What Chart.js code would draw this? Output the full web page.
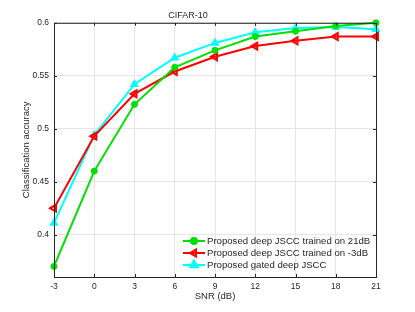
<!DOCTYPE html>
<html>
<head>
<meta charset="utf-8">
<script src="https://cdn.jsdelivr.net/npm/chart.js@4"></script>
<style>
  html, body { margin: 0; padding: 0; background: #fff; }
  #wrap { width: 415px; height: 312px; }
</style>
</head>
<body>
<div id="wrap"><canvas id="accChart"></canvas></div>
<script>
// SNR values (dB) on the x axis
const snr = [-3, 0, 3, 6, 9, 12, 15, 18, 21];
const xTicks = [-3, 0, 3, 6, 9, 12, 15, 18, 21];
const yTicks = [0.4, 0.45, 0.5, 0.55, 0.6];

// accuracy
const trained21 = [0.370, 0.460, 0.523, 0.558, 0.574, 0.587, 0.592, 0.597, 0.600];
const trainedM3 = [0.425, 0.493, 0.533, 0.554, 0.568, 0.578, 0.583, 0.587, 0.587];
const gated = [0.411, 0.494, 0.542, 0.567, 0.581, 0.591, 0.595, 0.596, 0.594];

const labels = [
  'Proposed deep JSCC trained on 21dB',
  'Proposed deep JSCC trained on -3dB',
  'Proposed gated deep JSCC'
];

const FONT = '"Liberation Sans", Arial, sans-serif';
const AX = '#262626';

function pts(ys) {
  return snr.map((x, i) => ({ x: x, y: ys[i] }));
}

// matlab-ish box + inner ticks
const boxPlugin = {
  id: 'box',
  afterDatasetsDraw(chart) {
    const a = chart.chartArea, ctx = chart.ctx;
    const xs = chart.scales.x, ys = chart.scales.y;
    ctx.save();
    ctx.strokeStyle = AX;
    ctx.lineWidth = 1;
    ctx.strokeRect(a.left + 0.5, a.top + 0.5, a.right - a.left, a.bottom - a.top);
    ctx.beginPath();
    xTicks.forEach(v => {
      const px = Math.round(xs.getPixelForValue(v)) + 0.5;
      ctx.moveTo(px, a.bottom); ctx.lineTo(px, a.bottom - 3);
      ctx.moveTo(px, a.top); ctx.lineTo(px, a.top + 3);
    });
    yTicks.forEach(v => {
      const py = Math.round(ys.getPixelForValue(v)) + 0.5;
      ctx.moveTo(a.left, py); ctx.lineTo(a.left + 3, py);
      ctx.moveTo(a.right, py); ctx.lineTo(a.right - 3, py);
    });
    ctx.stroke();
    ctx.restore();
  }
};

// legend drawn by hand: long line with marker in the middle
const legendPlugin = {
  id: 'matLegend',
  afterDraw(chart) {
    const ctx = chart.ctx;
    const x0 = 183, x1 = 205, tx = 207;
    const rows = [241, 253, 265];
    ctx.save();
    ctx.font = '9.6px ' + FONT;
    ctx.textBaseline = 'middle';
    chart.data.datasets.forEach((ds, i) => {
      const y = rows[i];
      ctx.strokeStyle = ds.borderColor;
      ctx.lineWidth = ds.borderWidth;
      ctx.beginPath();
      ctx.moveTo(x0, y); ctx.lineTo(x1, y);
      ctx.stroke();
      ctx.fillStyle = ds.pointBackgroundColor;
      ctx.strokeStyle = ds.pointBorderColor;
      Chart.helpers.drawPoint(ctx, {
        pointStyle: ds.pointStyle,
        radius: ds.pointRadius,
        rotation: ds.pointRotation || 0,
        borderWidth: ds.pointBorderWidth
      }, (x0 + x1) / 2, y);
      ctx.fillStyle = AX;
      ctx.fillText(ds.label, tx, y);
    });
    ctx.restore();
  }
};

const ctx = document.getElementById('accChart');
new Chart(ctx, {
  type: 'line',
  data: {
    datasets: [
      {
        label: labels[0], data: pts(trained21),
        borderColor: '#00e000', backgroundColor: '#00e000',
        borderWidth: 2, pointStyle: 'circle', pointRadius: 3,
        pointBackgroundColor: '#00e000', pointBorderColor: '#00e000', pointBorderWidth: 1
      },
      {
        label: labels[1], data: pts(trainedM3),
        borderColor: '#ff0000', backgroundColor: 'rgba(255,255,255,0)',
        borderWidth: 2, pointStyle: 'triangle', pointRotation: -90, pointRadius: 4,
        pointBackgroundColor: 'rgba(255,255,255,0)', pointBorderColor: '#ff0000', pointBorderWidth: 2
      },
      {
        label: labels[2], data: pts(gated),
        borderColor: '#00ffff', backgroundColor: '#00ffff',
        borderWidth: 2, pointStyle: 'triangle', pointRadius: 4.5,
        pointBackgroundColor: '#00ffff', pointBorderColor: '#00ffff', pointBorderWidth: 1
      }
    ]
  },
  options: {
    responsive: true,
    maintainAspectRatio: false,
    animation: false,
    clip: false,
    layout: { padding: { left: 0, right: 39, top: 0, bottom: 0 } },
    plugins: {
      legend: { display: false },
      tooltip: { enabled: false },
      title: {
        display: true, text: 'CIFAR-10', color: AX,
        font: { family: FONT, size: 9, weight: 'normal' },
        padding: { top: 10, bottom: 2 }
      }
    },
    scales: {
      x: {
        type: 'linear', min: -3, max: 21,
        afterBuildTicks(s) { s.ticks = xTicks.map(v => ({ value: v })); },
        afterFit(s) { s.height = 35; },
        grid: { color: '#e6e6e6', drawTicks: false },
        border: { display: false },
        ticks: { color: AX, font: { family: FONT, size: 8.5 }, padding: 5, maxRotation: 0 },
        title: { display: true, text: 'SNR (dB)', color: AX, font: { family: FONT, size: 9.5 }, padding: { top: 10, bottom: 10 } }
      },
      y: {
        min: 0.36, max: 0.6,
        afterBuildTicks(s) { s.ticks = yTicks.map(v => ({ value: v })); },
        afterFit(s) { s.width = 54; },
        grid: { color: '#e6e6e6', drawTicks: false },
        border: { display: false },
        ticks: { color: AX, font: { family: FONT, size: 8.5 }, padding: 5, callback: v => String(v) },
        title: { display: true, text: 'Classification accuracy', color: AX, font: { family: FONT, size: 9.5 }, padding: { top: 21, bottom: 21 } }
      }
    }
  },
  plugins: [boxPlugin, legendPlugin]
});
</script>
</body>
</html>
